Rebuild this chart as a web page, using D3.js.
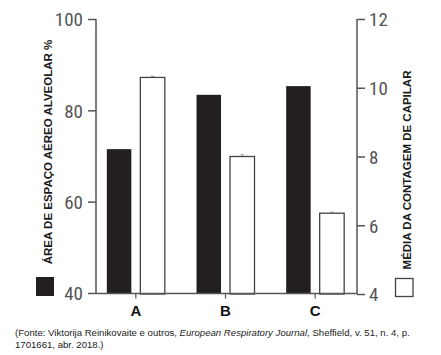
<!DOCTYPE html>
<html><head><meta charset="utf-8">
<script src="https://cdn.jsdelivr.net/npm/d3@7"></script>
<style>
html,body{margin:0;padding:0;background:#fff;}
svg{display:block;}
</style></head>
<body>
<svg id="c" width="441" height="355"></svg>
<script>
const categories = ["A", "B", "C"];
const alveolarArea = [71.5, 83.4, 85.3];      // left axis, %
const capillaryCount = [10.3, 8.0, 6.35];     // right axis
const capillaryErr = [0.03, 0.05, 0.03];
const leftTicks = [40, 60, 80, 100];
const rightTicks = [4, 6, 8, 10, 12];
const leftTitle = "ÁREA DE ESPAÇO AÉREO ALVEOLAR %";
const rightTitle = "MÉDIA DA CONTAGEM DE CAPILAR";

const svg = d3.select("#c");
const axisColor = "#555";
const tickFont = "'Liberation Sans Narrow','Roboto Condensed','DejaVu Sans Condensed',sans-serif";

const x = d3.scaleBand().domain(categories).range([91, 360]);
const yL = d3.scaleLinear().domain([40, 100]).range([293, 19]);
const yR = d3.scaleLinear().domain([4, 12]).range([294, 19]);
const barW = 24.5, gap = 9;

// bars: dark (left axis)
svg.selectAll("rect.dark").data(categories).join("rect")
  .attr("class", "dark")
  .attr("x", d => x(d) + x.bandwidth()/2 - gap/2 - barW)
  .attr("width", barW)
  .attr("y", (d,i) => yL(alveolarArea[i]))
  .attr("height", (d,i) => yL(40) - yL(alveolarArea[i]))
  .attr("fill", "#231f20");

// bars: white (right axis)
svg.selectAll("rect.light").data(categories).join("rect")
  .attr("class", "light")
  .attr("x", d => x(d) + x.bandwidth()/2 + gap/2)
  .attr("width", barW)
  .attr("y", (d,i) => yR(capillaryCount[i]))
  .attr("height", (d,i) => yR(4) - yR(capillaryCount[i]))
  .attr("fill", "#fff").attr("stroke", "#444").attr("stroke-width", 1.3);

// tiny error caps
svg.selectAll("line.err").data(categories).join("line")
  .attr("class", "err")
  .attr("x1", d => x(d) + x.bandwidth()/2 + gap/2 + barW/2 - 1.5)
  .attr("x2", d => x(d) + x.bandwidth()/2 + gap/2 + barW/2 + 1.5)
  .attr("y1", (d,i) => yR(capillaryCount[i] + capillaryErr[i]))
  .attr("y2", (d,i) => yR(capillaryCount[i] + capillaryErr[i]))
  .attr("stroke", "#666").attr("stroke-width", 0.8);

// left axis
const gL = svg.append("g").attr("transform", "translate(96,0)")
  .call(d3.axisLeft(yL).tickValues(leftTicks).tickSize(8).tickPadding(5).tickSizeOuter(0));
// right axis
const gR = svg.append("g").attr("transform", "translate(357,0)")
  .call(d3.axisRight(yR).tickValues(rightTicks).tickSize(8).tickPadding(4).tickSizeOuter(0));
[gL, gR].forEach(g => {
  g.select(".domain").attr("stroke", axisColor).attr("stroke-width", 1.5);
  g.selectAll(".tick line").attr("stroke", axisColor).attr("stroke-width", 1.5);
  g.selectAll(".tick text").attr("fill", "#555").attr("font-family", tickFont)
    .attr("font-size", 19).attr("dy", "0.36em");
});
gL.select(".domain").attr("d", "M0,19V293.5");
gR.select(".domain").attr("d", "M0,19V294");

// bottom axis
const gB = svg.append("g").attr("transform", "translate(0,293.5)")
  .call(d3.axisBottom(x).tickSize(5).tickPadding(7).tickSizeOuter(0));
gB.select(".domain").attr("d", "M96,0H357").attr("stroke", axisColor).attr("stroke-width", 1.5);
gB.selectAll(".tick line").attr("stroke", axisColor).attr("stroke-width", 1.2);
gB.selectAll(".tick text").attr("fill", "#111")
  .attr("font-family", "'Liberation Sans',Arial,sans-serif").attr("font-weight", "bold")
  .attr("font-size", 15);

// axis titles
svg.append("text")
  .attr("transform", "translate(52,152) rotate(-90)")
  .attr("text-anchor", "middle")
  .attr("font-family", "'Liberation Sans',Arial,sans-serif").attr("font-weight", "bold")
  .attr("font-size", 11.5).attr("fill", "#1a1a1a")
  .text(leftTitle);
svg.append("text")
  .attr("transform", "translate(410.5,170) rotate(-90)")
  .attr("text-anchor", "middle")
  .attr("font-family", "'Liberation Sans',Arial,sans-serif").attr("font-weight", "bold")
  .attr("font-size", 11.5).attr("fill", "#1a1a1a")
  .text(rightTitle);

// legend squares
svg.append("rect").attr("x", 36).attr("y", 277).attr("width", 18).attr("height", 19)
  .attr("fill", "#231f20");
svg.append("rect").attr("x", 395.5).attr("y", 278.5).attr("width", 17.5).attr("height", 18)
  .attr("fill", "#fff").attr("stroke", "#444").attr("stroke-width", 1.3);

// source footnote
const foot = svg.append("text")
  .attr("font-family", "'Liberation Sans',Arial,sans-serif")
  .attr("font-size", 9.6).attr("fill", "#222");
const l1 = foot.append("tspan").attr("x", 15).attr("y", 336);
l1.append("tspan").text("(Fonte: Viktorija Reinikovaite e outros, ");
l1.append("tspan").attr("font-style", "italic").text("European Respiratory Journal");
l1.append("tspan").text(", Sheffield, v. 51, n. 4, p.");
foot.append("tspan").attr("x", 15).attr("y", 348).text("1701661, abr. 2018.)");
</script>
</body></html>
